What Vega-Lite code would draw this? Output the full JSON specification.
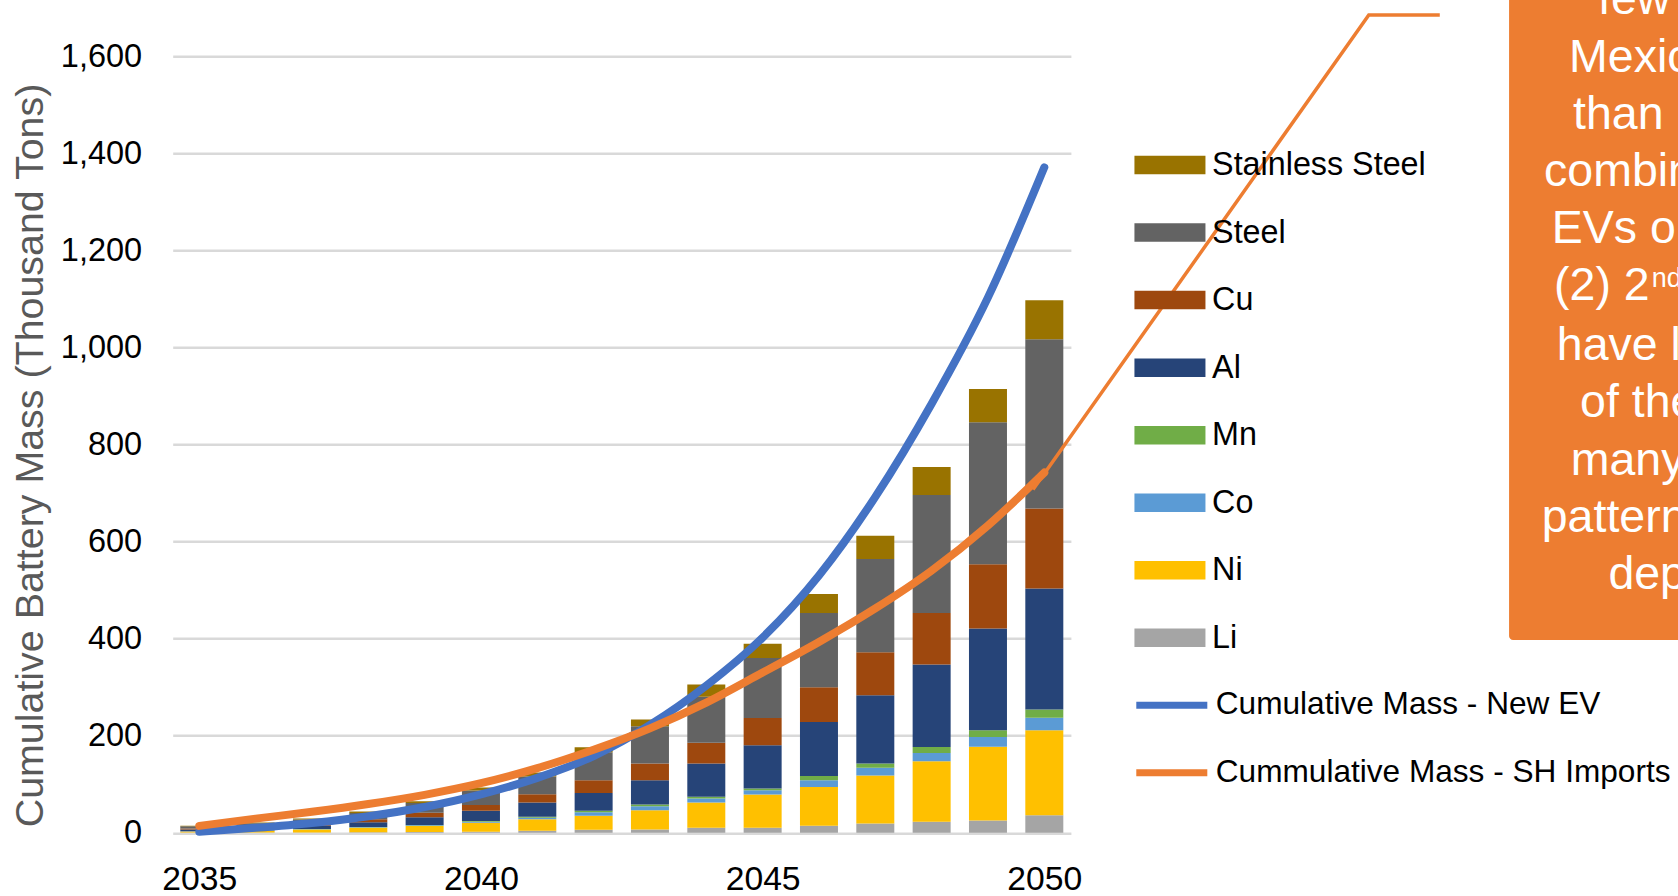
{
  "$schema": "https://vega.github.io/schema/vega-lite/v6.json",
  "width": 898.2,
  "height": 776.5,
  "autosize": {"type": "none"},
  "padding": {"left": 172.7, "top": 56.2, "right": 607.1, "bottom": 63.3},
  "background": "#ffffff",
  "config": {
    "view": {"stroke": null},
    "font": "Liberation Sans",
    "axis": {"labelFont": "Liberation Sans", "labelColor": "#000000"}
  },
  "datasets": {
    "stackOrder": [
      {"metal": "Li", "layer": 1}, {"metal": "Ni", "layer": 2}, {"metal": "Co", "layer": 3}, {"metal": "Mn", "layer": 4},
      {"metal": "Al", "layer": 5}, {"metal": "Cu", "layer": 6}, {"metal": "Steel", "layer": 7}, {"metal": "Stainless Steel", "layer": 8}
    ],
    "metals": [
      {"year": 2035, "metal": "Li", "mass": 0.2}, {"year": 2035, "metal": "Ni", "mass": 2.5}, {"year": 2035, "metal": "Co", "mass": 0.3}, {"year": 2035, "metal": "Mn", "mass": 0.1}, {"year": 2035, "metal": "Al", "mass": 3.5}, {"year": 2035, "metal": "Cu", "mass": 2.0}, {"year": 2035, "metal": "Steel", "mass": 4.5}, {"year": 2035, "metal": "Stainless Steel", "mass": 1.3},
      {"year": 2036, "metal": "Li", "mass": 0.3}, {"year": 2036, "metal": "Ni", "mass": 4.2}, {"year": 2036, "metal": "Co", "mass": 0.5}, {"year": 2036, "metal": "Mn", "mass": 0.2}, {"year": 2036, "metal": "Al", "mass": 5.0}, {"year": 2036, "metal": "Cu", "mass": 3.0}, {"year": 2036, "metal": "Steel", "mass": 6.4}, {"year": 2036, "metal": "Stainless Steel", "mass": 1.4},
      {"year": 2037, "metal": "Li", "mass": 0.6}, {"year": 2037, "metal": "Ni", "mass": 6.0}, {"year": 2037, "metal": "Co", "mass": 0.7}, {"year": 2037, "metal": "Mn", "mass": 0.3}, {"year": 2037, "metal": "Al", "mass": 6.8}, {"year": 2037, "metal": "Cu", "mass": 4.2}, {"year": 2037, "metal": "Steel", "mass": 8.8}, {"year": 2037, "metal": "Stainless Steel", "mass": 2.0},
      {"year": 2038, "metal": "Li", "mass": 1.0}, {"year": 2038, "metal": "Ni", "mass": 9.0}, {"year": 2038, "metal": "Co", "mass": 1.0}, {"year": 2038, "metal": "Mn", "mass": 0.5}, {"year": 2038, "metal": "Al", "mass": 10.0}, {"year": 2038, "metal": "Cu", "mass": 6.0}, {"year": 2038, "metal": "Steel", "mass": 13.0}, {"year": 2038, "metal": "Stainless Steel", "mass": 3.0},
      {"year": 2039, "metal": "Li", "mass": 1.4}, {"year": 2039, "metal": "Ni", "mass": 12.5}, {"year": 2039, "metal": "Co", "mass": 1.5}, {"year": 2039, "metal": "Mn", "mass": 0.6}, {"year": 2039, "metal": "Al", "mass": 16.0}, {"year": 2039, "metal": "Cu", "mass": 9.0}, {"year": 2039, "metal": "Steel", "mass": 20.0}, {"year": 2039, "metal": "Stainless Steel", "mass": 4.0},
      {"year": 2040, "metal": "Li", "mass": 2.0}, {"year": 2040, "metal": "Ni", "mass": 18.5}, {"year": 2040, "metal": "Co", "mass": 2.3}, {"year": 2040, "metal": "Mn", "mass": 1.2}, {"year": 2040, "metal": "Al", "mass": 21.0}, {"year": 2040, "metal": "Cu", "mass": 12.0}, {"year": 2040, "metal": "Steel", "mass": 30.0}, {"year": 2040, "metal": "Stainless Steel", "mass": 6.0},
      {"year": 2041, "metal": "Li", "mass": 4.0}, {"year": 2041, "metal": "Ni", "mass": 23.5}, {"year": 2041, "metal": "Co", "mass": 3.5}, {"year": 2041, "metal": "Mn", "mass": 2.0}, {"year": 2041, "metal": "Al", "mass": 29.0}, {"year": 2041, "metal": "Cu", "mass": 17.0}, {"year": 2041, "metal": "Steel", "mass": 37.0}, {"year": 2041, "metal": "Stainless Steel", "mass": 8.0},
      {"year": 2042, "metal": "Li", "mass": 6.0}, {"year": 2042, "metal": "Ni", "mass": 29.0}, {"year": 2042, "metal": "Co", "mass": 7.0}, {"year": 2042, "metal": "Mn", "mass": 3.0}, {"year": 2042, "metal": "Al", "mass": 37.0}, {"year": 2042, "metal": "Cu", "mass": 26.0}, {"year": 2042, "metal": "Steel", "mass": 58.0}, {"year": 2042, "metal": "Stainless Steel", "mass": 10.0},
      {"year": 2043, "metal": "Li", "mass": 6.5}, {"year": 2043, "metal": "Ni", "mass": 40.0}, {"year": 2043, "metal": "Co", "mass": 8.0}, {"year": 2043, "metal": "Mn", "mass": 3.5}, {"year": 2043, "metal": "Al", "mass": 50.0}, {"year": 2043, "metal": "Cu", "mass": 34.5}, {"year": 2043, "metal": "Steel", "mass": 77.0}, {"year": 2043, "metal": "Stainless Steel", "mass": 14.0},
      {"year": 2044, "metal": "Li", "mass": 10.0}, {"year": 2044, "metal": "Ni", "mass": 52.0}, {"year": 2044, "metal": "Co", "mass": 8.5}, {"year": 2044, "metal": "Mn", "mass": 3.5}, {"year": 2044, "metal": "Al", "mass": 68.5}, {"year": 2044, "metal": "Cu", "mass": 43.0}, {"year": 2044, "metal": "Steel", "mass": 94.5}, {"year": 2044, "metal": "Stainless Steel", "mass": 25.5},
      {"year": 2045, "metal": "Li", "mass": 10.3}, {"year": 2045, "metal": "Ni", "mass": 68.5}, {"year": 2045, "metal": "Co", "mass": 8.9}, {"year": 2045, "metal": "Mn", "mass": 3.4}, {"year": 2045, "metal": "Al", "mass": 89.0}, {"year": 2045, "metal": "Cu", "mass": 56.0}, {"year": 2045, "metal": "Steel", "mass": 124.0}, {"year": 2045, "metal": "Stainless Steel", "mass": 29.0},
      {"year": 2046, "metal": "Li", "mass": 14.4}, {"year": 2046, "metal": "Ni", "mass": 80.0}, {"year": 2046, "metal": "Co", "mass": 13.5}, {"year": 2046, "metal": "Mn", "mass": 9.0}, {"year": 2046, "metal": "Al", "mass": 111.0}, {"year": 2046, "metal": "Cu", "mass": 72.0}, {"year": 2046, "metal": "Steel", "mass": 152.7}, {"year": 2046, "metal": "Stainless Steel", "mass": 39.0},
      {"year": 2047, "metal": "Li", "mass": 19.0}, {"year": 2047, "metal": "Ni", "mass": 99.0}, {"year": 2047, "metal": "Co", "mass": 16.0}, {"year": 2047, "metal": "Mn", "mass": 8.5}, {"year": 2047, "metal": "Al", "mass": 140.5}, {"year": 2047, "metal": "Cu", "mass": 89.0}, {"year": 2047, "metal": "Steel", "mass": 192.0}, {"year": 2047, "metal": "Stainless Steel", "mass": 48.0},
      {"year": 2048, "metal": "Li", "mass": 22.6}, {"year": 2048, "metal": "Ni", "mass": 124.7}, {"year": 2048, "metal": "Co", "mass": 17.1}, {"year": 2048, "metal": "Mn", "mass": 12.3}, {"year": 2048, "metal": "Al", "mass": 169.9}, {"year": 2048, "metal": "Cu", "mass": 106.1}, {"year": 2048, "metal": "Steel", "mass": 243.3}, {"year": 2048, "metal": "Stainless Steel", "mass": 57.6},
      {"year": 2049, "metal": "Li", "mass": 25.0}, {"year": 2049, "metal": "Ni", "mass": 152.0}, {"year": 2049, "metal": "Co", "mass": 20.0}, {"year": 2049, "metal": "Mn", "mass": 14.0}, {"year": 2049, "metal": "Al", "mass": 210.0}, {"year": 2049, "metal": "Cu", "mass": 132.0}, {"year": 2049, "metal": "Steel", "mass": 293.0}, {"year": 2049, "metal": "Stainless Steel", "mass": 68.0},
      {"year": 2050, "metal": "Li", "mass": 36.0}, {"year": 2050, "metal": "Ni", "mass": 175.0}, {"year": 2050, "metal": "Co", "mass": 26.0}, {"year": 2050, "metal": "Mn", "mass": 17.0}, {"year": 2050, "metal": "Al", "mass": 249.0}, {"year": 2050, "metal": "Cu", "mass": 165.0}, {"year": 2050, "metal": "Steel", "mass": 349.0}, {"year": 2050, "metal": "Stainless Steel", "mass": 80.0}
    ],
    "totals": [
      {"year": 2035, "series": "Cumulative Mass - New EV", "mass": 2}, {"year": 2036, "series": "Cumulative Mass - New EV", "mass": 10}, {"year": 2037, "series": "Cumulative Mass - New EV", "mass": 20}, {"year": 2038, "series": "Cumulative Mass - New EV", "mass": 34}, {"year": 2039, "series": "Cumulative Mass - New EV", "mass": 53}, {"year": 2040, "series": "Cumulative Mass - New EV", "mass": 79}, {"year": 2041, "series": "Cumulative Mass - New EV", "mass": 113}, {"year": 2042, "series": "Cumulative Mass - New EV", "mass": 158}, {"year": 2043, "series": "Cumulative Mass - New EV", "mass": 222}, {"year": 2044, "series": "Cumulative Mass - New EV", "mass": 303}, {"year": 2045, "series": "Cumulative Mass - New EV", "mass": 402}, {"year": 2046, "series": "Cumulative Mass - New EV", "mass": 530}, {"year": 2047, "series": "Cumulative Mass - New EV", "mass": 692}, {"year": 2048, "series": "Cumulative Mass - New EV", "mass": 884}, {"year": 2049, "series": "Cumulative Mass - New EV", "mass": 1103}, {"year": 2050, "series": "Cumulative Mass - New EV", "mass": 1371},
      {"year": 2035, "series": "Cummulative Mass - SH Imports", "mass": 14}, {"year": 2036, "series": "Cummulative Mass - SH Imports", "mass": 29}, {"year": 2037, "series": "Cummulative Mass - SH Imports", "mass": 43}, {"year": 2038, "series": "Cummulative Mass - SH Imports", "mass": 59}, {"year": 2039, "series": "Cummulative Mass - SH Imports", "mass": 78}, {"year": 2040, "series": "Cummulative Mass - SH Imports", "mass": 102}, {"year": 2041, "series": "Cummulative Mass - SH Imports", "mass": 133}, {"year": 2042, "series": "Cummulative Mass - SH Imports", "mass": 171}, {"year": 2043, "series": "Cummulative Mass - SH Imports", "mass": 215}, {"year": 2044, "series": "Cummulative Mass - SH Imports", "mass": 268}, {"year": 2045, "series": "Cummulative Mass - SH Imports", "mass": 330}, {"year": 2046, "series": "Cummulative Mass - SH Imports", "mass": 393}, {"year": 2047, "series": "Cummulative Mass - SH Imports", "mass": 462}, {"year": 2048, "series": "Cummulative Mass - SH Imports", "mass": 540}, {"year": 2049, "series": "Cummulative Mass - SH Imports", "mass": 633}, {"year": 2050, "series": "Cummulative Mass - SH Imports", "mass": 742}
    ],
    "pointer": [
      {"year": 2049.8, "mass": 707},
      {"year": 2055.76, "mass": 1685},
      {"year": 2057.02, "mass": 1685}
    ],
    "callout": [
      {"year": 2058.25, "year2": 2064, "mass": 397, "mass2": 1800}
    ],
    "calloutText": [
      {"year": 2059.83, "mass": 1686, "line": "few"},
      {"year": 2059.315, "mass": 1568.1, "line": "Mexic"},
      {"year": 2059.386, "mass": 1450.0, "line": "than"},
      {"year": 2058.871, "mass": 1332.6, "line": "combin"},
      {"year": 2059.009, "mass": 1214.5, "line": "EVs o"},
      {"year": 2059.049, "mass": 1097.7, "line": "(2) 2"},
      {"year": 2059.098, "mass": 974.1, "line": "have l"},
      {"year": 2059.51, "mass": 856.0, "line": "of the"},
      {"year": 2059.345, "mass": 737.1, "line": "many"},
      {"year": 2058.83, "mass": 620.3, "line": "pattern"},
      {"year": 2060.013, "mass": 502.2, "line": "dep"}
    ],
    "calloutSup": [
      {"year": 2060.783, "mass": 1124.1, "line": "nd"}
    ]
  },
  "layer": [
    {
      "data": {"name": "metals"},
      "transform": [
        {"lookup": "metal", "from": {"data": {"name": "stackOrder"}, "key": "metal", "fields": ["layer"]}}
      ],
      "mark": {"type": "bar", "size": 38},
      "encoding": {
        "x": {
          "field": "year", "type": "quantitative",
          "scale": {"domain": [2034.528, 2050.472], "nice": false, "zero": false, "padding": 0},
          "axis": {"values": [2035, 2040, 2045, 2050], "format": "d", "grid": false, "ticks": false, "domain": false, "labelFontSize": 33.7, "labelPadding": 30, "labelFlush": false, "title": null}
        },
        "y": {
          "field": "mass", "type": "quantitative", "stack": "zero",
          "scale": {"domain": [0, 1600], "nice": false},
          "axis": {
            "values": [0, 200, 400, 600, 800, 1000, 1200, 1400, 1600], "format": ",d",
            "grid": true, "gridColor": "#d9d9d9", "gridWidth": 2.5,
            "ticks": false, "domain": false, "labelFontSize": 32.5, "labelPadding": 31,
            "title": "Cumulative Battery Mass (Thousand Tons)",
            "titleFont": "Liberation Sans", "titleFontSize": 39.4, "titleFontWeight": "normal", "titleColor": "#595959",
            "titleAngle": 270, "titleX": -142.7, "titleY": 398.8, "titleAlign": "center", "titleBaseline": "middle"
          }
        },
        "color": {
          "field": "metal", "type": "nominal",
          "scale": {
            "domain": ["Stainless Steel", "Steel", "Cu", "Al", "Mn", "Co", "Ni", "Li"],
            "range": ["#997300", "#636363", "#9E480E", "#264478", "#70AD47", "#5B9BD5", "#FFC000", "#A5A5A5"]
          },
          "legend": {
            "orient": "none", "legendX": 981.1, "legendY": 92.65, "title": null, "padding": 0,
            "symbolType": "M-2.5,-0.65H2.5V0.65H-2.5Z", "symbolSize": 807, "symbolStrokeWidth": 0,
            "labelFont": "Liberation Sans", "labelFontSize": 32.3, "labelColor": "#000000",
            "labelOffset": 26, "rowPadding": 34.55, "labelLimit": 600
          }
        },
        "order": {"field": "layer", "type": "quantitative", "sort": "ascending"}
      }
    },
    {
      "data": {"name": "totals"},
      "mark": {"type": "line", "interpolate": "monotone", "strokeWidth": 8, "strokeCap": "round", "strokeJoin": "round"},
      "encoding": {
        "x": {"field": "year", "type": "quantitative"},
        "y": {"field": "mass", "type": "quantitative"},
        "stroke": {
          "field": "series", "type": "nominal",
          "scale": {"domain": ["Cumulative Mass - New EV", "Cummulative Mass - SH Imports"], "range": ["#4472C4", "#ED7D31"]},
          "legend": {
            "orient": "none", "legendX": 981.1, "legendY": 631.15, "title": null, "padding": 0,
            "symbolType": "M-2.5,0H2.5", "symbolSize": 807, "symbolStrokeWidth": 7,
            "labelFont": "Liberation Sans", "labelFontSize": 31.6, "labelColor": "#000000",
            "labelOffset": 26, "rowPadding": 33.4, "labelLimit": 700
          }
        }
      }
    },
    {
      "data": {"name": "pointer"},
      "mark": {"type": "line", "color": "#ED7D31", "strokeWidth": 3.5},
      "encoding": {
        "x": {"field": "year", "type": "quantitative"},
        "y": {"field": "mass", "type": "quantitative"}
      }
    },
    {
      "data": {"name": "callout"},
      "mark": {"type": "rect", "color": "#ED7D31", "cornerRadius": 4},
      "encoding": {
        "x": {"field": "year", "type": "quantitative"},
        "x2": {"field": "year2"},
        "y": {"field": "mass", "type": "quantitative"},
        "y2": {"field": "mass2"}
      }
    },
    {
      "data": {"name": "calloutText"},
      "mark": {"type": "text", "align": "left", "baseline": "alphabetic", "font": "Liberation Sans", "fontSize": 46.5, "color": "#ffffff"},
      "encoding": {
        "x": {"field": "year", "type": "quantitative"},
        "y": {"field": "mass", "type": "quantitative"},
        "text": {"field": "line"}
      }
    },
    {
      "data": {"name": "calloutSup"},
      "mark": {"type": "text", "align": "left", "baseline": "alphabetic", "font": "Liberation Sans", "fontSize": 27, "color": "#ffffff"},
      "encoding": {
        "x": {"field": "year", "type": "quantitative"},
        "y": {"field": "mass", "type": "quantitative"},
        "text": {"field": "line"}
      }
    }
  ]
}
